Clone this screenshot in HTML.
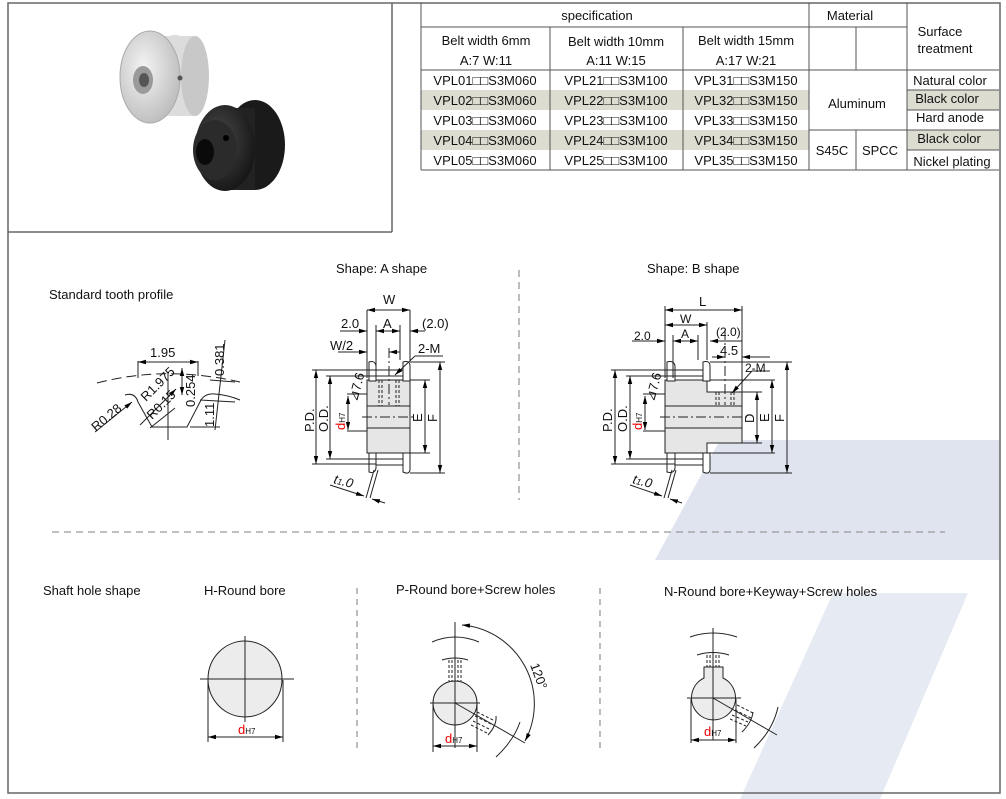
<!DOCTYPE html>
<html><head><meta charset="utf-8"><style>
html,body{margin:0;padding:0;background:#fff;}
svg{display:block;font-family:"Liberation Sans",Arial,sans-serif;}
</style></head><body>
<svg width="1006" height="799" viewBox="0 0 1006 799" xmlns="http://www.w3.org/2000/svg">
<defs>
<marker id="ar" markerWidth="8" markerHeight="6" refX="8" refY="3" orient="auto-start-reverse" markerUnits="userSpaceOnUse"><path d="M0,0.8 L8,3 L0,5.2z" fill="#000"/></marker>
<radialGradient id="sil" cx="0.4" cy="0.4" r="0.7"><stop offset="0" stop-color="#f4f4f4"/><stop offset="1" stop-color="#b8b8b8"/></radialGradient>
<radialGradient id="blk" cx="0.4" cy="0.4" r="0.7"><stop offset="0" stop-color="#4a4a4a"/><stop offset="1" stop-color="#111"/></radialGradient>
</defs>
<!-- watermark -->
<polygon points="720,440 1000,440 1000,560 655,560" fill="#dfe4ef"/>
<polygon points="833,593 968,593 880,799 740,799" fill="#e6eaf3"/>
<!-- outer borders -->
<rect x="8" y="3" width="992" height="790" fill="none" stroke="#666" stroke-width="1.5"/>
<line x1="392" y1="3" x2="392" y2="232" stroke="#666" stroke-width="1.5"/>
<line x1="8" y1="232" x2="392" y2="232" stroke="#666" stroke-width="1.5"/>
<!-- product photo -->
<g>
<ellipse cx="175" cy="75" rx="25" ry="40" fill="#d8d8d8"/>
<rect x="160" y="36" width="35" height="80" fill="#dcdcdc"/>
<ellipse cx="195" cy="76" rx="14" ry="40" fill="#c8c8c8"/>
<ellipse cx="150" cy="77" rx="30" ry="46" fill="url(#sil)" stroke="#aaa"/>
<ellipse cx="143" cy="80" rx="10" ry="14" fill="#9a9a9a"/>
<ellipse cx="144" cy="80" rx="5" ry="7" fill="#555"/>
<circle cx="180" cy="78" r="2.5" fill="#555"/>
<ellipse cx="255" cy="145" rx="30" ry="45" fill="#1a1a1a"/>
<rect x="222" y="108" width="33" height="82" fill="#222"/>
<ellipse cx="225" cy="148" rx="30" ry="43" fill="url(#blk)"/>
<ellipse cx="215" cy="150" rx="22" ry="30" fill="#2b2b2b"/>
<ellipse cx="205" cy="152" rx="9" ry="13" fill="#0a0a0a"/>
<circle cx="226" cy="138" r="3" fill="#000"/>
</g>
<!-- table -->
<g font-size="13" fill="#111">
<rect x="421" y="90" width="388" height="20" fill="#dcdcd0"/>
<rect x="421" y="130" width="388" height="20" fill="#dcdcd0"/>
<rect x="907" y="90" width="92" height="20" fill="#dcdcd0"/>
<rect x="907" y="130" width="92" height="20" fill="#dcdcd0"/>
<g stroke="#555" stroke-width="1" fill="none">
<line x1="421" y1="3" x2="421" y2="170"/>
<line x1="550" y1="27" x2="550" y2="170"/>
<line x1="683" y1="27" x2="683" y2="170"/>
<line x1="809" y1="3" x2="809" y2="170"/>
<line x1="856" y1="27" x2="856" y2="70"/>
<line x1="856" y1="130" x2="856" y2="170"/>
<line x1="907" y1="3" x2="907" y2="170"/>
<line x1="421" y1="27" x2="907" y2="27"/>
<line x1="421" y1="70" x2="999" y2="70"/>
<line x1="421" y1="170" x2="999" y2="170"/>
<line x1="809" y1="130" x2="907" y2="130"/>
<line x1="907" y1="90" x2="999" y2="90"/>
<line x1="907" y1="110" x2="999" y2="110"/>
<line x1="907" y1="130" x2="999" y2="130"/>
<line x1="907" y1="150" x2="999" y2="150"/>
</g>
<text x="597" y="20" text-anchor="middle">specification</text>
<text x="850" y="20" text-anchor="middle">Material</text>
<text x="940" y="36" text-anchor="middle">Surface</text>
<text x="945" y="53" text-anchor="middle">treatment</text>
<text x="486" y="45" text-anchor="middle">Belt width 6mm</text>
<text x="616" y="46" text-anchor="middle">Belt width 10mm</text>
<text x="746" y="45" text-anchor="middle">Belt width 15mm</text>
<text x="486" y="65" text-anchor="middle">A:7   W:11</text>
<text x="616" y="65" text-anchor="middle">A:11    W:15</text>
<text x="746" y="65" text-anchor="middle">A:17   W:21</text>
<g text-anchor="middle">
<text x="485" y="85">VPL01□□S3M060</text><text x="616" y="85">VPL21□□S3M100</text><text x="746" y="85">VPL31□□S3M150</text>
<text x="485" y="105">VPL02□□S3M060</text><text x="616" y="105">VPL22□□S3M100</text><text x="746" y="105">VPL32□□S3M150</text>
<text x="485" y="125">VPL03□□S3M060</text><text x="616" y="125">VPL23□□S3M100</text><text x="746" y="125">VPL33□□S3M150</text>
<text x="485" y="145">VPL04□□S3M060</text><text x="616" y="145">VPL24□□S3M100</text><text x="746" y="145">VPL34□□S3M150</text>
<text x="485" y="165">VPL05□□S3M060</text><text x="616" y="165">VPL25□□S3M100</text><text x="746" y="165">VPL35□□S3M150</text>
<text x="857" y="108">Aluminum</text>
<text x="832" y="155">S45C</text><text x="880" y="155">SPCC</text>
<text x="950" y="85">Natural color</text>
<text x="947" y="103">Black color</text>
<text x="950" y="122">Hard anode</text>
<text x="949" y="143">Black color</text>
<text x="952" y="166">Nickel plating</text>
</g>
</g>
<!-- section titles -->
<g font-size="13" fill="#111">
<text x="49" y="299">Standard tooth profile</text>
<text x="336" y="273">Shape:  A shape</text>
<text x="647" y="273">Shape:  B shape</text>
<text x="43" y="595">Shaft hole shape</text>
<text x="204" y="595">H-Round bore</text>
<text x="396" y="594">P-Round bore+Screw holes</text>
<text x="664" y="596">N-Round bore+Keyway+Screw holes</text>
</g>
<g stroke="#999" stroke-width="1.3" stroke-dasharray="7,5" fill="none">
<line x1="519" y1="270" x2="519" y2="500"/>
<line x1="52" y1="532" x2="945" y2="532"/>
<line x1="357" y1="588" x2="357" y2="748" stroke-dasharray="6,5"/>
<line x1="600" y1="588" x2="600" y2="748" stroke-dasharray="6,5"/>
</g>
<!-- tooth profile -->
<g stroke="#222" stroke-width="1" fill="none" font-size="13">
<path d="M97,383 Q165,365 240,382" stroke-dasharray="10,5"/>
<path d="M125,395 Q135,392 138,402 L152,427 L187,427 L200,402 Q204,393 215,394 Q228,395 240,400"/>
<line x1="138" y1="361" x2="138" y2="378"/><line x1="198" y1="361" x2="198" y2="376"/>
<line x1="138" y1="362" x2="198" y2="362" marker-start="url(#ar)" marker-end="url(#ar)"/>
<line x1="168" y1="372" x2="168" y2="440"/>
<line x1="182" y1="368" x2="182" y2="395" marker-start="url(#ar)" marker-end="url(#ar)"/>
<line x1="225" y1="340" x2="215" y2="430"/>
<line x1="210" y1="380" x2="235" y2="382"/>
<line x1="200" y1="400" x2="235" y2="402"/>
<line x1="190" y1="427" x2="220" y2="427"/>
<line x1="95" y1="432" x2="132" y2="402" marker-end="url(#ar)"/>
<line x1="140" y1="425" x2="176" y2="389" marker-end="url(#ar)"/>
<line x1="150" y1="428" x2="175" y2="408"/>
</g>
<g font-size="13" fill="#111">
<text x="150" y="357">1.95</text>
<text transform="translate(224,376) rotate(-90)">0.381</text>
<text transform="translate(214,427) rotate(-90)">1.11</text>
<text transform="translate(195,407) rotate(-90)">0.254</text>
<text transform="translate(96,432) rotate(-40)">R0.28</text>
<text transform="translate(146,402) rotate(-45)">R1.975</text>
<text transform="translate(152,420) rotate(-45)">R0.15</text>
</g>
<!-- A shape -->
<g stroke="#222" stroke-width="1" fill="none">
<rect x="367" y="380" width="43" height="73" fill="#e6e6e6"/>
<line x1="367" y1="406" x2="410" y2="406"/><line x1="367" y1="428" x2="410" y2="428"/>
<line x1="362" y1="417" x2="416" y2="417" stroke-dasharray="10,3,2,3"/>
<line x1="389" y1="348" x2="389" y2="405" stroke-dasharray="10,3,2,3"/>
<g stroke-dasharray="3,2"><line x1="379" y1="380" x2="379" y2="406"/><line x1="382" y1="380" x2="382" y2="406"/><line x1="396" y1="380" x2="396" y2="406"/><line x1="399" y1="380" x2="399" y2="406"/></g>
<path d="M369,362 Q375,360 376,366 L376,381 L369,381z" fill="#fff"/>
<path d="M403,362 Q410,360 410,366 L410,381 L403,381z" fill="#fff"/>
<line x1="376" y1="370" x2="403" y2="370"/><line x1="376" y1="376" x2="403" y2="376"/>
<path d="M369,453 L376,453 L376,468 Q375,474 369,472z" fill="#fff"/>
<path d="M403,453 L410,453 L410,470 Q409,475 403,472z" fill="#fff"/>
<line x1="376" y1="459" x2="403" y2="459"/><line x1="376" y1="465" x2="403" y2="465"/>
<line x1="374" y1="470" x2="366" y2="498"/><line x1="378" y1="470" x2="370" y2="498"/>
<line x1="367" y1="310" x2="367" y2="378"/><line x1="410" y1="310" x2="410" y2="360"/>
<line x1="367" y1="310" x2="410" y2="310" marker-start="url(#ar)" marker-end="url(#ar)"/>
<line x1="376" y1="325" x2="376" y2="378"/><line x1="400" y1="325" x2="400" y2="360"/>
<line x1="376" y1="331" x2="400" y2="331" marker-start="url(#ar)" marker-end="url(#ar)"/>
<line x1="340" y1="331" x2="367" y2="331" marker-end="url(#ar)"/>
<line x1="425" y1="331" x2="410" y2="331" marker-end="url(#ar)"/>
<line x1="338" y1="352" x2="367" y2="352" marker-end="url(#ar)"/>
<line x1="400" y1="352" x2="389" y2="352" marker-end="url(#ar)"/>
<line x1="443" y1="356" x2="415" y2="356"/><line x1="415" y1="356" x2="395" y2="375" marker-end="url(#ar)"/>
<line x1="312" y1="370" x2="376" y2="370"/><line x1="312" y1="464" x2="376" y2="464"/>
<line x1="316" y1="370" x2="316" y2="464" marker-start="url(#ar)" marker-end="url(#ar)"/>
<line x1="326" y1="376" x2="376" y2="376"/><line x1="326" y1="459" x2="376" y2="459"/>
<line x1="330" y1="376" x2="330" y2="459" marker-start="url(#ar)" marker-end="url(#ar)"/>
<line x1="347" y1="394" x2="367" y2="394"/><line x1="347" y1="431" x2="367" y2="431"/>
<line x1="348" y1="396" x2="348" y2="430" marker-start="url(#ar)" marker-end="url(#ar)"/>
<line x1="410" y1="380" x2="430" y2="380"/><line x1="410" y1="453" x2="430" y2="453"/>
<line x1="425" y1="380" x2="425" y2="453" marker-start="url(#ar)" marker-end="url(#ar)"/>
<line x1="410" y1="362" x2="445" y2="362"/><line x1="410" y1="473" x2="445" y2="473"/>
<line x1="440" y1="362" x2="440" y2="473" marker-start="url(#ar)" marker-end="url(#ar)"/>
<line x1="330" y1="485" x2="364" y2="496" marker-end="url(#ar)"/>
<line x1="385" y1="503" x2="372" y2="499" marker-end="url(#ar)"/>
</g>
<g font-size="13" fill="#111">
<text x="383" y="304">W</text><text x="341" y="328">2.0</text><text x="383" y="328">A</text><text x="422" y="328">(2.0)</text>
<text x="330" y="350">W/2</text><text x="418" y="353">2-M</text>
<text transform="translate(314,432) rotate(-90)">P.D.</text>
<text transform="translate(328,432) rotate(-90)">O.D.</text>
<text transform="translate(345,430) rotate(-90)"><tspan fill="#e00">d</tspan><tspan font-size="8">H7</tspan></text>
<text transform="translate(357,402) rotate(-75)">⊿7.6</text>
<text transform="translate(422,422) rotate(-90)">E</text>
<text transform="translate(437,422) rotate(-90)">F</text>
<text transform="translate(333,483) rotate(15)" font-style="italic">t<tspan font-size="9">1</tspan>.0</text>
</g>
<!-- B shape -->
<g stroke="#222" stroke-width="1" fill="none">
<path d="M665,380 L707,380 L707,392 L742,392 L742,443 L707,443 L707,453 L665,453z" fill="#e6e6e6"/>
<line x1="665" y1="406" x2="742" y2="406"/><line x1="665" y1="428" x2="742" y2="428"/>
<line x1="660" y1="417" x2="748" y2="417" stroke-dasharray="10,3,2,3"/>
<line x1="725" y1="330" x2="725" y2="405" stroke-dasharray="10,3,2,3"/>
<g stroke-dasharray="3,2"><line x1="716" y1="392" x2="716" y2="406"/><line x1="719" y1="392" x2="719" y2="406"/><line x1="731" y1="392" x2="731" y2="406"/><line x1="734" y1="392" x2="734" y2="406"/></g>
<path d="M667,362 Q674,360 675,366 L675,381 L667,381z" fill="#fff"/>
<path d="M703,362 Q710,360 710,366 L710,381 L703,381z" fill="#fff"/>
<line x1="675" y1="370" x2="703" y2="370"/><line x1="675" y1="376" x2="703" y2="376"/>
<path d="M667,453 L675,453 L675,468 Q674,474 667,472z" fill="#fff"/>
<path d="M703,453 L710,453 L710,470 Q709,475 703,472z" fill="#fff"/>
<line x1="675" y1="459" x2="703" y2="459"/><line x1="675" y1="465" x2="703" y2="465"/>
<line x1="672" y1="470" x2="664" y2="498"/><line x1="676" y1="470" x2="668" y2="498"/>
<line x1="665" y1="306" x2="665" y2="378"/><line x1="742" y1="306" x2="742" y2="392"/>
<line x1="665" y1="310" x2="742" y2="310" marker-start="url(#ar)" marker-end="url(#ar)"/>
<line x1="707" y1="322" x2="707" y2="360"/>
<line x1="665" y1="325" x2="707" y2="325" marker-start="url(#ar)" marker-end="url(#ar)"/>
<line x1="673" y1="335" x2="673" y2="378"/><line x1="698" y1="335" x2="698" y2="360"/>
<line x1="673" y1="341" x2="698" y2="341" marker-start="url(#ar)" marker-end="url(#ar)"/>
<line x1="632" y1="341" x2="665" y2="341" marker-end="url(#ar)"/>
<line x1="742" y1="341" x2="710" y2="341" marker-end="url(#ar)"/>
<line x1="712" y1="357" x2="725" y2="357" marker-end="url(#ar)"/>
<line x1="770" y1="357" x2="742" y2="357" marker-end="url(#ar)"/>
<line x1="770" y1="371" x2="752" y2="371"/><line x1="752" y1="371" x2="732" y2="393" marker-end="url(#ar)"/>
<line x1="611" y1="370" x2="675" y2="370"/><line x1="611" y1="464" x2="675" y2="464"/>
<line x1="615" y1="370" x2="615" y2="464" marker-start="url(#ar)" marker-end="url(#ar)"/>
<line x1="626" y1="376" x2="675" y2="376"/><line x1="626" y1="459" x2="675" y2="459"/>
<line x1="630" y1="376" x2="630" y2="459" marker-start="url(#ar)" marker-end="url(#ar)"/>
<line x1="643" y1="394" x2="665" y2="394"/><line x1="643" y1="431" x2="665" y2="431"/>
<line x1="645" y1="396" x2="645" y2="430" marker-start="url(#ar)" marker-end="url(#ar)"/>
<line x1="742" y1="392" x2="762" y2="392"/><line x1="742" y1="443" x2="762" y2="443"/>
<line x1="757" y1="392" x2="757" y2="443" marker-start="url(#ar)" marker-end="url(#ar)"/>
<line x1="710" y1="380" x2="775" y2="380"/><line x1="707" y1="453" x2="775" y2="453"/>
<line x1="772" y1="380" x2="772" y2="453" marker-start="url(#ar)" marker-end="url(#ar)"/>
<line x1="710" y1="362" x2="792" y2="362"/><line x1="710" y1="473" x2="792" y2="473"/>
<line x1="787" y1="362" x2="787" y2="473" marker-start="url(#ar)" marker-end="url(#ar)"/>
<line x1="630" y1="485" x2="662" y2="496" marker-end="url(#ar)"/>
<line x1="682" y1="503" x2="670" y2="499" marker-end="url(#ar)"/>
</g>
<g font-size="13" fill="#111">
<text x="699" y="306">L</text><text x="680" y="323" font-size="12">W</text><text x="681" y="338" font-size="12">A</text>
<text x="634" y="340" font-size="12">2.0</text><text x="716" y="336" font-size="12">(2.0)</text>
<text x="720" y="355">4.5</text><text x="745" y="372" font-size="12">2-M</text>
<text transform="translate(612,432) rotate(-90)">P.D.</text>
<text transform="translate(627,432) rotate(-90)">O.D.</text>
<text transform="translate(642,430) rotate(-90)"><tspan fill="#e00">d</tspan><tspan font-size="8">H7</tspan></text>
<text transform="translate(654,402) rotate(-75)">⊿7.6</text>
<text transform="translate(754,423) rotate(-90)">D</text>
<text transform="translate(769,422) rotate(-90)">E</text>
<text transform="translate(784,422) rotate(-90)">F</text>
<text transform="translate(632,483) rotate(15)" font-style="italic">t<tspan font-size="9">1</tspan>.0</text>
</g>
<!-- H round bore -->
<g stroke="#222" stroke-width="1" fill="none">
<ellipse cx="245" cy="679" rx="37" ry="38" fill="#ececec"/>
<line x1="245" y1="636" x2="245" y2="722"/>
<line x1="200" y1="679" x2="294" y2="679"/>
<line x1="208" y1="680" x2="208" y2="742"/><line x1="283" y1="680" x2="283" y2="742"/>
<line x1="208" y1="737" x2="283" y2="737" marker-start="url(#ar)" marker-end="url(#ar)"/>
</g>
<text x="238" y="734" font-size="13" fill="#e00">d<tspan font-size="8" fill="#111">H7</tspan></text>
<!-- P round bore -->
<g stroke="#222" stroke-width="1" fill="none">
<circle cx="455" cy="703" r="22" fill="#ececec"/>
<line x1="455" y1="622" x2="455" y2="748"/>
<line x1="430" y1="703" x2="480" y2="703"/>
<line x1="455" y1="703" x2="525" y2="743"/>
<path d="M432,642 Q455,632 479,642"/>
<path d="M442,660 Q455,656 468,660"/>
<g stroke-dasharray="3,2"><line x1="449" y1="660" x2="449" y2="681"/><line x1="452" y1="660" x2="452" y2="681"/><line x1="458" y1="660" x2="458" y2="681"/><line x1="461" y1="660" x2="461" y2="681"/>
<line x1="477" y1="712" x2="493" y2="720"/><line x1="475" y1="716" x2="491" y2="724"/><line x1="473" y1="721" x2="489" y2="729"/><line x1="471" y1="725" x2="487" y2="733"/></g>
<path d="M488,735 Q497,725 496,716"/>
<path d="M496,757 Q514,740 520,722"/>
<path d="M462,625 A79,79 0 0 1 525,741" marker-start="url(#ar)" marker-end="url(#ar)"/>
<line x1="433" y1="704" x2="433" y2="752"/><line x1="477" y1="704" x2="477" y2="752"/>
<line x1="433" y1="746" x2="477" y2="746" marker-start="url(#ar)" marker-end="url(#ar)"/>
</g>
<text x="445" y="743" font-size="13" fill="#e00">d<tspan font-size="8" fill="#111">H7</tspan></text>
<text transform="translate(530,665) rotate(70)" font-size="13" fill="#111">120°</text>
<!-- N round bore -->
<g stroke="#222" stroke-width="1" fill="none">
<path d="M704,667 L723,667 L723,678 A22,22 0 1 1 704,678z" fill="#ececec"/>
<line x1="713" y1="628" x2="713" y2="740"/>
<line x1="687" y1="698" x2="741" y2="698"/>
<line x1="713" y1="698" x2="777" y2="735"/>
<path d="M690,637 Q713,629 737,637"/>
<path d="M697,655 Q713,650 729,655"/>
<g stroke-dasharray="3,2"><line x1="707" y1="655" x2="707" y2="667"/><line x1="710" y1="655" x2="710" y2="667"/><line x1="716" y1="655" x2="716" y2="667"/><line x1="719" y1="655" x2="719" y2="667"/>
<line x1="737" y1="705" x2="753" y2="713"/><line x1="735" y1="710" x2="751" y2="718"/><line x1="732" y1="715" x2="748" y2="722"/><line x1="730" y1="719" x2="746" y2="726"/></g>
<path d="M742,732 Q752,722 753,712"/>
<path d="M754,748 Q773,730 778,707"/>
<line x1="691" y1="699" x2="691" y2="743"/><line x1="736" y1="699" x2="736" y2="743"/>
<line x1="691" y1="740" x2="736" y2="740" marker-start="url(#ar)" marker-end="url(#ar)"/>
</g>
<text x="704" y="736" font-size="13" fill="#e00">d<tspan font-size="8" fill="#111">H7</tspan></text>
</svg>
</body></html>
